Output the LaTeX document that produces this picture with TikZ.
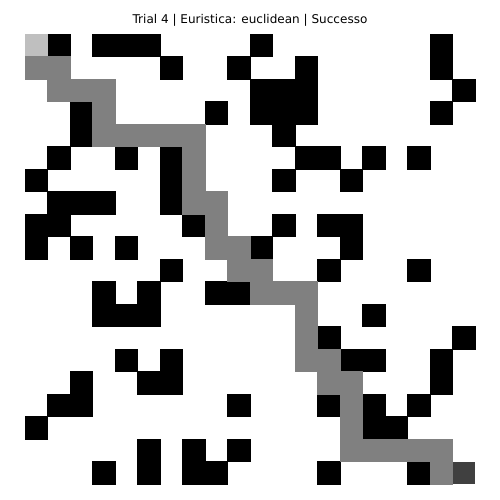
\documentclass[tikz,border=0pt]{standalone}
\usepackage{fontspec}
\setmainfont{DejaVu Sans}
\definecolor{startgray}{RGB}{191,191,191}
\definecolor{routegray}{RGB}{128,128,128}
\definecolor{goalgray}{RGB}{64,64,64}

\begin{document}
\begin{tikzpicture}[x=0.5715cm,y=-0.5715cm,
  wall/.style={fill=black,draw=black,line width=0.2pt},
  route/.style={fill=routegray,draw=routegray,line width=0.2pt},
  title/.style={font=\fontsize{8.7}{10}\selectfont}]
% ---- canvas : 500 x 500 px, grid cell = 22.5 px ----
\useasboundingbox[fill=white] (-1.1111,-1.5111) rectangle (21.1111,20.7111);
% ---- obstacles, row by row ----
\foreach \r/\cols in {0/{1,3,4,5,10,18}, 1/{6,9,12,18}, 2/{10,11,12,19},
    3/{2,8,10,11,12,18}, 4/{2,11}, 5/{1,4,6,12,13,15,17}, 6/{0,6,11,14},
    7/{1,2,3,6}, 8/{0,1,7,11,13,14}, 9/{0,2,4,10,14}, 10/{6,13,17},
    11/{3,5,8,9}, 12/{3,4,5,15}, 13/{13,19}, 14/{4,6,14,15,18},
    15/{2,5,6,18}, 16/{1,2,9,13,15,17}, 17/{0,15,16}, 18/{5,7,9},
    19/{3,5,7,8,13,17}}
  \foreach \c in \cols
    \filldraw[wall] (\c,\r) rectangle ++(1,1);
% ---- path found by A* ----
\foreach \r/\cols in {1/{0,1}, 2/{1,2,3}, 3/{3}, 4/{3,4,5,6,7}, 5/{7}, 6/{7},
    7/{7,8}, 8/{8}, 9/{8,9}, 10/{9,10}, 11/{10,11,12}, 12/{12}, 13/{12},
    14/{12,13}, 15/{13,14}, 16/{14}, 17/{14}, 18/{14,15,16,17,18}, 19/{18}}
  \foreach \c in \cols
    \filldraw[route] (\c,\r) rectangle ++(1,1);
% ---- start and goal ----
\fill[startgray] (0,0) rectangle (1,1);
\fill[goalgray] (19,19) rectangle (20,20);
% ---- title ----
\node[title] (ttl) at (10,-0.62) {Trial 4 | Euristica: euclidean | Successo};
\end{tikzpicture}
\end{document}
